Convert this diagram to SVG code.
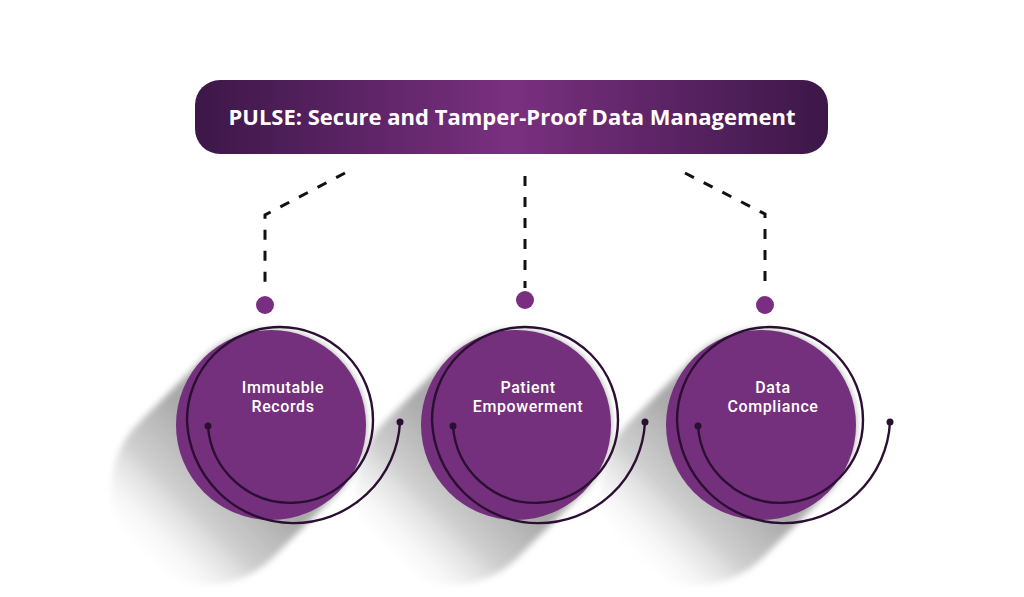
<svg xmlns="http://www.w3.org/2000/svg" width="1024" height="597" viewBox="0 0 1024 597">
  <defs>
    <linearGradient id="titleGrad" x1="0" y1="0" x2="1" y2="0">
      <stop offset="0" stop-color="#3c1748"/>
      <stop offset="0.5" stop-color="#7a3080"/>
      <stop offset="1" stop-color="#3c1748"/>
    </linearGradient>
    <linearGradient id="shadowGrad" gradientUnits="userSpaceOnUse" x1="-35" y1="35" x2="-135" y2="135">
      <stop offset="0" stop-color="#a9a9a9"/>
      <stop offset="0.45" stop-color="#cfcfcf"/>
      <stop offset="1" stop-color="#ffffff" stop-opacity="0"/>
    </linearGradient>
    <filter id="blur" x="-30%" y="-30%" width="160%" height="160%">
      <feGaussianBlur stdDeviation="3"/>
    </filter>
    <path id="shadowShape" d="M 67.2 67.2 L 2.2 132.2 A 95 95 0 0 1 -132.2 -2.2 L -67.2 -67.2 A 95 95 0 0 1 67.2 67.2 Z"/>
    <path id="spiral" d="M -63 1 A 82.6 82.6 0 0 0 102 -5 A 93 93 0 0 0 -84 -5 A 106.6 106.6 0 0 0 129 -3"/>
  </defs>
  <style>
    .fill { fill: #74307c; }
    .spiral { fill: none; stroke: #2b0f33; stroke-width: 2.4; }
    .end { fill: #2b0f33; }
    .dash { fill: none; stroke: #111111; stroke-width: 3; stroke-dasharray: 10 11; }
    .pin { fill: #7a2e82; }
    .label { font-family: Roboto, "Liberation Sans", sans-serif; font-weight: 500; font-size: 16px; letter-spacing: 0.6px; fill: #ffffff; text-anchor: middle; }
    .title { font-family: "Open Sans", "Liberation Sans", sans-serif; font-weight: 700; font-size: 22px; fill: #ffffff; text-anchor: middle; }
    .shadow { fill: url(#shadowGrad); filter: url(#blur); }
  </style>
  <rect width="1024" height="597" fill="#ffffff"/>

  <g id="shadows">
    <use href="#shadowShape" class="shadow" transform="translate(271,425)"/>
    <use href="#shadowShape" class="shadow" transform="translate(516,425)"/>
    <use href="#shadowShape" class="shadow" transform="translate(761,425)"/>
  </g>

  <g id="title">
    <rect x="195" y="80" width="633" height="74" rx="25" fill="url(#titleGrad)"/>
    <text class="title" x="512" y="125">PULSE: Secure and Tamper-Proof Data Management</text>
  </g>

  <g id="connectors">
    <path class="dash" d="M 345 173 L 265 215 L 265 290"/>
    <path class="dash" d="M 525 176 L 525 288"/>
    <path class="dash" d="M 685 173 L 765 214 L 765 290"/>
    <circle class="pin" cx="265" cy="305" r="9"/>
    <circle class="pin" cx="525" cy="300" r="9"/>
    <circle class="pin" cx="765" cy="305" r="9"/>
  </g>

  <g id="node-immutable-records" transform="translate(271,425)">
    <circle class="fill" cx="0" cy="0" r="95"/>
    <use href="#spiral" class="spiral"/>
    <circle class="end" cx="-63" cy="1" r="3.5"/>
    <circle class="end" cx="129" cy="-3" r="3.5"/>
    <text class="label" x="12" y="-32.5">Immutable</text>
    <text class="label" x="12" y="-13.5">Records</text>
  </g>

  <g id="node-patient-empowerment" transform="translate(516,425)">
    <circle class="fill" cx="0" cy="0" r="95"/>
    <use href="#spiral" class="spiral"/>
    <circle class="end" cx="-63" cy="1" r="3.5"/>
    <circle class="end" cx="129" cy="-3" r="3.5"/>
    <text class="label" x="12" y="-32.5">Patient</text>
    <text class="label" x="12" y="-13.5">Empowerment</text>
  </g>

  <g id="node-data-compliance" transform="translate(761,425)">
    <circle class="fill" cx="0" cy="0" r="95"/>
    <use href="#spiral" class="spiral"/>
    <circle class="end" cx="-63" cy="1" r="3.5"/>
    <circle class="end" cx="129" cy="-3" r="3.5"/>
    <text class="label" x="12" y="-32.5">Data</text>
    <text class="label" x="12" y="-13.5">Compliance</text>
  </g>
</svg>
